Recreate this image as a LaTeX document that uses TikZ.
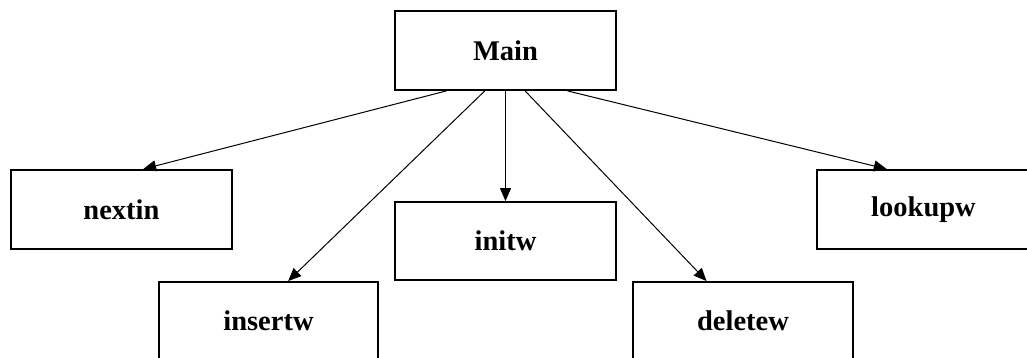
\documentclass[tikz,border=0pt]{standalone}
\usepackage{fontspec}
\setmainfont{Liberation Serif}
\usetikzlibrary{arrows.meta,calc}
\begin{document}
\begin{tikzpicture}[x=1pt,y=-1pt,
  box/.style={draw,line width=1.8pt,rectangle,inner sep=0pt,
    font=\fontsize{28.5}{32}\selectfont\bfseries},
  conn/.style={line width=1pt,-{Triangle[length=13pt,width=11pt]}}]
\useasboundingbox (0,0) rectangle (1027,358);
\clip (0,0) rectangle (1027,358);
\node[box,minimum width=221pt,minimum height=79pt] (main) at (505.5,50.5) {Main};
\node[box,minimum width=221pt,minimum height=79pt] (nextin) at (121.5,209.5) {nextin};
\node[box,minimum width=221pt,minimum height=78pt] (initw) at (505.5,241) {initw};
\node[box,minimum width=213pt,minimum height=79pt] (lookupw) at (923.5,209.5) {lookupw};
\node[box,minimum width=219pt,minimum height=78pt] (insertw) at (268.5,321) {insertw};
\node[box,minimum width=220pt,minimum height=78pt] (deletew) at (743,321) {deletew};
\draw[conn] ($(main.south west)!0.235!(main.south east)$) -- ($(nextin.north west)!0.597!(nextin.north east)$);
\draw[conn] ($(main.south west)!0.407!(main.south east)$) -- ($(insertw.north west)!0.589!(insertw.north east)$);
\draw[conn] (main.south) -- (initw.north);
\draw[conn] ($(main.south west)!0.588!(main.south east)$) -- ($(deletew.north west)!0.336!(deletew.north east)$);
\draw[conn] ($(main.south west)!0.778!(main.south east)$) -- ($(lookupw.north west)!0.329!(lookupw.north east)$);
\end{tikzpicture}
\end{document}
